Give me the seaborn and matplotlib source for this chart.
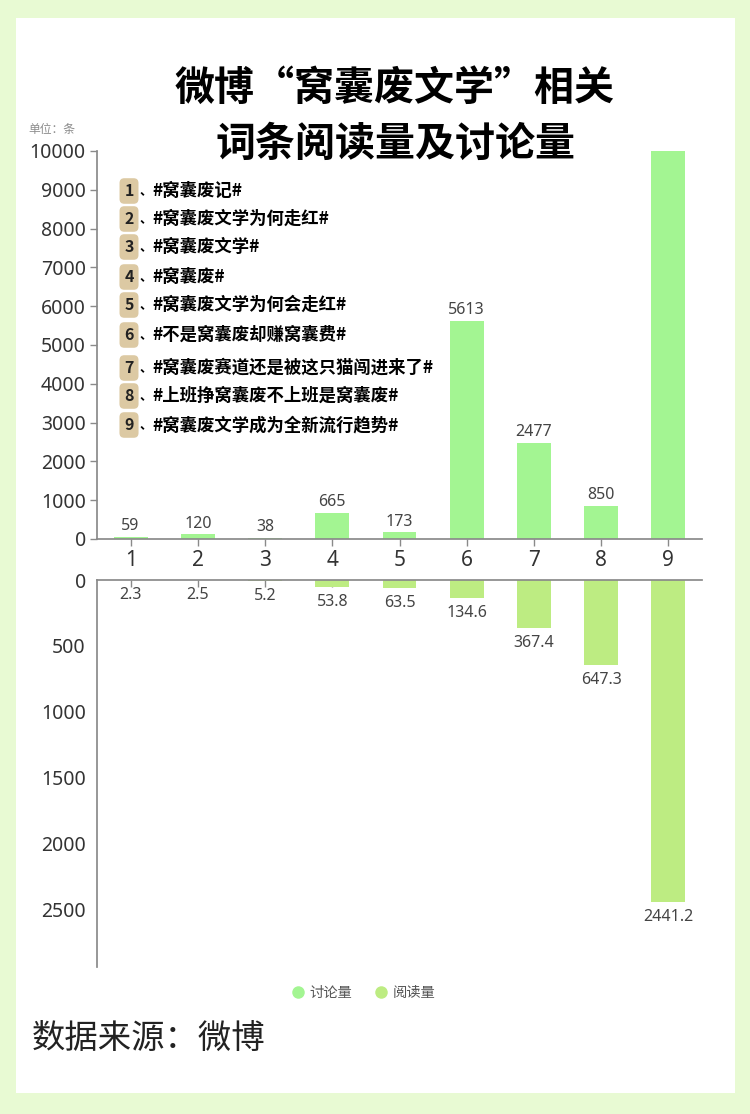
import matplotlib
matplotlib.use('Agg')
import matplotlib.pyplot as plt
from matplotlib.lines import Line2D
from matplotlib.patches import Rectangle
import pandas as pd
import seaborn as sns

# values
categories = ['1', '2', '3', '4', '5', '6', '7', '8', '9']
discussion = [59, 120, 38, 665, 173, 5613, 2477, 850, 10000]
reading = [2.3, 2.5, 5.2, 53.8, 63.5, 134.6, 367.4, 647.3, 2441.2]
topics = [
    '#窝囊废记#',
    '#窝囊废文学为何走红#',
    '#窝囊废文学#',
    '#窝囊废#',
    '#窝囊废文学为何会走红#',
    '#不是窝囊废却赚窝囊费#',
    '#窝囊废赛道还是被这只猫闯进来了#',
    '#上班挣窝囊废不上班是窝囊废#',
    '#窝囊废文学成为全新流行趋势#',
]
top_ticks = [0, 1000, 2000, 3000, 4000, 5000, 6000, 7000, 8000, 9000, 10000]
bottom_ticks = [0, 500, 1000, 1500, 2000, 2500]

W, H = 750, 1114
GREEN = '#A3F592'
LIME = '#BDEC82'
AXIS = '#8A8A8A'
TEXT = '#444444'

sns.set_theme(style='white')
plt.rcParams['font.family'] = ['Noto Sans', 'Noto Sans CJK SC', 'DejaVu Sans']
CJK = ['Noto Sans CJK SC', 'DejaVu Sans']

df = pd.DataFrame({'cat': categories, 'discussion': discussion, 'reading': reading})

fig = plt.figure(figsize=(W / 100, H / 100), dpi=100, facecolor='#E8FAD3')


def fx(px):
    return px / W


def fy(px):
    return 1 - px / H


def axes_px(left, top, right, bottom):
    return fig.add_axes([fx(left), fy(bottom), (right - left) / W, (bottom - top) / H])


# white card
fig.add_artist(Rectangle((fx(16), fy(1093)), 719 / W, 1075 / H, transform=fig.transFigure,
                         fc='white', ec='none', zorder=-5))

# top panel
ax = axes_px(97, 151, 702, 539)
ax.patch.set_alpha(0)
sns.barplot(data=df, x='cat', y='discussion', color=GREEN, saturation=1, width=0.505, linewidth=0, ax=ax)
ax.set_ylim(0, 10000)
ax.set_yticks(top_ticks)
ax.set_xlabel('')
ax.set_ylabel('')
ax.tick_params(axis='y', length=5, width=1, color=AXIS, labelsize=14, labelcolor='#333333', pad=3, left=True)
ax.tick_params(axis='x', length=5, width=1, color=AXIS, labelsize=15, labelcolor='#333333', pad=3, bottom=True)
sns.despine(ax=ax, top=True, right=True)
ax.spines['left'].set_color(AXIS)
ax.spines['bottom'].set_color(AXIS)
ax.bar_label(ax.containers[0], labels=[str(v) if v < 10000 else '' for v in discussion],
             fontsize=11.5, color=TEXT, padding=2)

# bottom panel, same categories pointing down
ax2 = axes_px(97, 580, 702, 967)
ax2.patch.set_alpha(0)
sns.barplot(data=df, x='cat', y='reading', color=LIME, saturation=1, width=0.505, linewidth=0, ax=ax2)
ax2.set_ylim(2932, 0)
ax2.set_yticks(bottom_ticks)
ax2.set_xlabel('')
ax2.set_ylabel('')
ax2.xaxis.tick_top()
ax2.tick_params(axis='x', direction='in', length=5, width=1, color=AXIS, labeltop=False, top=True)
ax2.tick_params(axis='y', length=0, labelsize=14, labelcolor='#333333', pad=8)
for side in ['right', 'bottom']:
    ax2.spines[side].set_visible(False)
ax2.spines['left'].set_color(AXIS)
ax2.spines['top'].set_color(AXIS)
ax2.bar_label(ax2.containers[0], labels=[str(v) for v in reading], fontsize=11.5, color=TEXT, padding=5)

# title and small texts
fig.text(fx(395), fy(88), '微博“窝囊废文学”相关', family=CJK, fontsize=28.8, fontweight=900,
         color='black', ha='center', va='center')
fig.text(fx(395), fy(144), '词条阅读量及讨论量', family=CJK, fontsize=28.8, fontweight=900,
         color='black', ha='center', va='center')
fig.text(fx(28), fy(130), '单位：条', family=CJK, fontsize=8.5, color='#8C8C8C', va='center')
fig.text(fx(32), fy(1038), '数据来源：微博', family=CJK, fontsize=24, color='#222222', va='center')

# numbered topic list
topic_rows = [191, 219, 247, 277, 305, 335, 368, 396, 425]
for i, (name, row) in enumerate(zip(topics, topic_rows), start=1):
    fig.text(fx(129), fy(row), str(i), family=CJK, fontsize=11.5, fontweight='bold', color='#222222',
             ha='center', va='center',
             bbox=dict(boxstyle='round,pad=0.3', fc='#DCC9A3', ec='none'))
    fig.text(fx(140), fy(row), '、', family=CJK, fontsize=9, fontweight='bold', color='black', va='center')
    fig.text(fx(152), fy(row), name, family=CJK, fontsize=12.5, fontweight=900, color='black', va='center')

# legend
handles = [
    Line2D([], [], marker='o', ls='', ms=9, mfc=GREEN, mec='none', label='讨论量'),
    Line2D([], [], marker='o', ls='', ms=9, mfc=LIME, mec='none', label='阅读量'),
]
fig.legend(handles=handles, loc='center', bbox_to_anchor=(fx(363), fy(993)), ncol=2, frameon=False,
           prop={'family': CJK, 'size': 10.3}, labelcolor='#555555', handlelength=1,
           handletextpad=0.35, columnspacing=1.45)

fig.savefig('out.png', dpi=100, facecolor=fig.get_facecolor())
